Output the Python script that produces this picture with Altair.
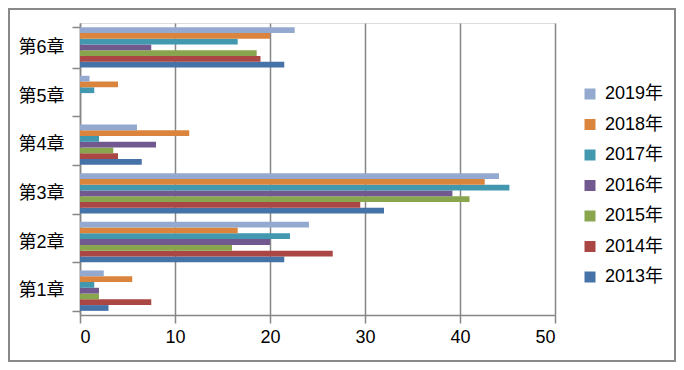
import altair as alt
import pandas as pd

chapters = ["第1章", "第2章", "第3章", "第4章", "第5章", "第6章"]
years = ["2013年", "2014年", "2015年", "2016年", "2017年", "2018年", "2019年"]
v2013 = [3.0, 21.5, 32.0, 6.5, 0.0, 21.5]
v2014 = [7.5, 26.6, 29.5, 4.0, 0.0, 19.0]
v2015 = [2.0, 16.0, 41.0, 3.5, 0.0, 18.6]
v2016 = [2.0, 20.0, 39.2, 8.0, 0.0, 7.5]
v2017 = [1.5, 22.1, 45.2, 2.0, 1.5, 16.6]
v2018 = [5.5, 16.6, 42.6, 11.5, 4.0, 20.0]
v2019 = [2.5, 24.1, 44.1, 6.0, 1.0, 22.6]
colors = ["#4572A7", "#AA4643", "#89A54E", "#71588F", "#4198AF", "#DB843D", "#93A9CF"]
x_ticks = [0, 10, 20, 30, 40, 50]

series = [v2013, v2014, v2015, v2016, v2017, v2018, v2019]
rows = []
for yr, vals in zip(years, series):
    for ch, v in zip(chapters, vals):
        rows.append({"chapter": ch, "year": yr, "value": v})
df = pd.DataFrame(rows)

FONT = "Liberation Sans, Noto Sans CJK SC, sans-serif"
GRAY = "#868686"

years_rev = years[::-1]
colors_rev = colors[::-1]

bars = alt.Chart(df).mark_bar().encode(
    x=alt.X("value:Q",
            scale=alt.Scale(domain=[0, 50], nice=False),
            axis=alt.Axis(values=x_ticks, title=None, grid=True, gridColor=GRAY,
                          gridWidth=1.5, domainColor=GRAY, domainWidth=1.5,
                          tickColor=GRAY, tickWidth=1.5, tickSize=8,
                          labelFont=FONT, labelFontSize=18, labelColor="#000000",
                          labelPadding=5, format="d")),
    y=alt.Y("chapter:N", sort=chapters[::-1],
            scale=alt.Scale(paddingInner=0.17, paddingOuter=0.085),
            axis=alt.Axis(title=None, grid=False, tickBand="extent",
                          domainColor=GRAY, domainWidth=1.5,
                          tickColor=GRAY, tickWidth=1.5, tickSize=8,
                          labelFont=FONT, labelFontSize=18, labelColor="#000000",
                          labelPadding=8)),
    yOffset=alt.YOffset("year:N", sort=years_rev,
                        scale=alt.Scale(domain=years_rev, paddingInner=0, paddingOuter=0)),
    color=alt.Color("year:N",
                    scale=alt.Scale(domain=years_rev, range=colors_rev),
                    legend=alt.Legend(title=None, orient="none", legendX=501, legendY=62,
                                      symbolType="square", symbolSize=121,
                                      symbolStrokeWidth=0, labelFont=FONT,
                                      labelFontSize=18, labelColor="#000000",
                                      labelOffset=6, rowPadding=12.5, padding=0)),
)

border = alt.Chart(pd.DataFrame({"a": [0]})).mark_rect(
    filled=False, stroke="#898989", strokeWidth=2
).encode(
    x=alt.value(-71), x2=alt.value(595), y=alt.value(-14), y2=alt.value(338)
)

chart = alt.layer(bars, border).properties(
    width=475, height=292,
    autosize=alt.AutoSizeParams(type="none"),
    padding={"left": 72, "top": 15, "right": 121, "bottom": 47},
).configure_view(stroke=None).configure(background="#ffffff")

chart.save("out.html", embed_options={"renderer": "svg", "actions": False})
